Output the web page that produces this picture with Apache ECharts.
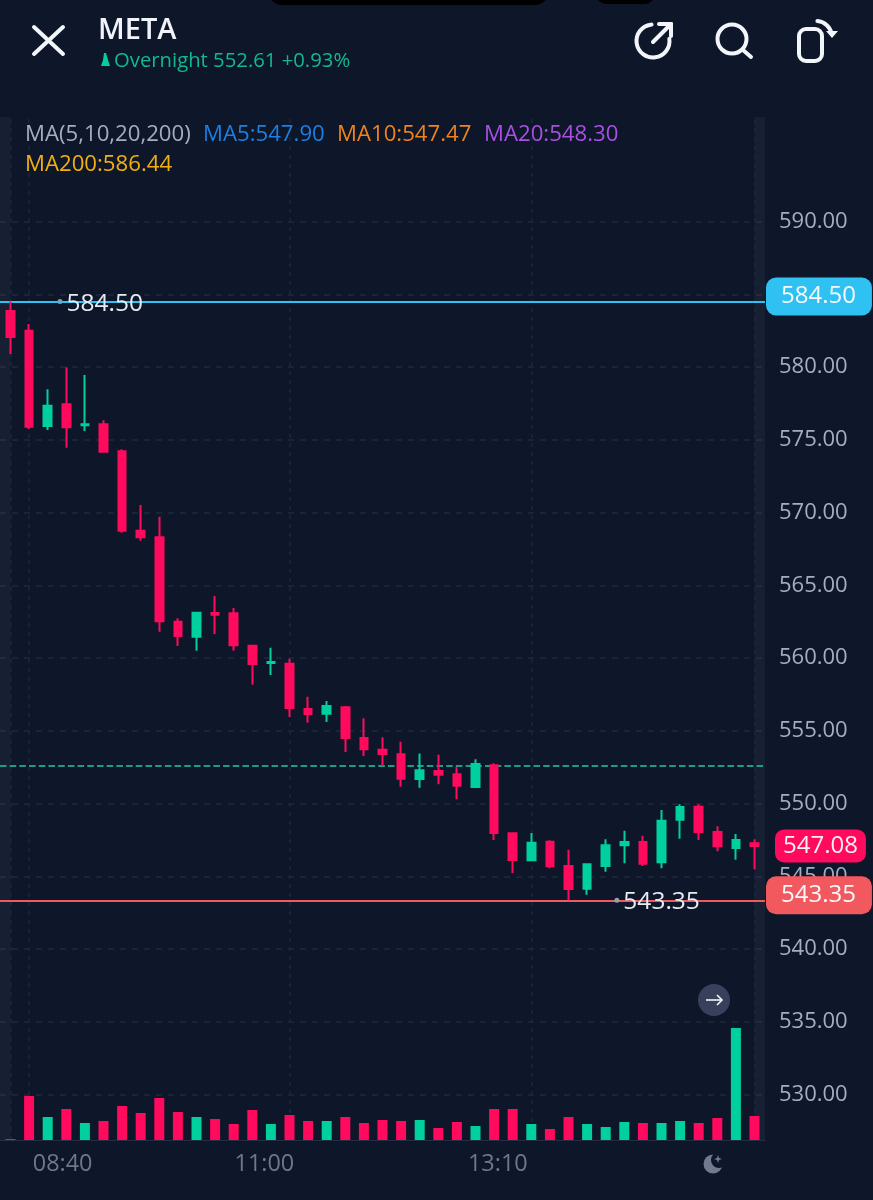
<!DOCTYPE html>
<html><head><meta charset="utf-8">
<style>html,body{margin:0;padding:0;background:#0e162a}#c{width:873px;height:1200px}</style>
<script src="https://cdn.jsdelivr.net/npm/echarts@6/dist/echarts.min.js"></script>
</head><body><div id="c"></div>
<script>
const opens  = [583.85,582.49,575.95,577.44,575.99,576.06,574.21,568.75,568.30,562.49,561.46,563.09,563.07,560.85,559.66,559.61,556.49,556.17,556.61,554.50,553.70,553.38,551.68,552.23,552.01,551.13,552.63,547.95,546.10,547.37,545.70,544.14,545.70,547.13,547.35,545.96,548.89,549.78,548.04,546.94,547.26];
const closes = [582.06,575.90,577.34,575.86,576.06,574.18,568.75,568.30,562.52,561.51,563.11,562.98,560.87,559.59,559.73,556.56,556.15,556.70,554.50,553.73,553.40,551.70,552.28,551.98,551.22,552.71,547.97,546.12,547.31,545.68,544.12,545.82,547.13,547.35,545.86,548.82,549.76,548.04,547.06,547.49,547.08];
const highs  = [584.50,582.96,578.47,579.98,579.45,576.34,574.34,570.52,569.71,562.73,563.14,564.26,563.44,560.85,560.71,559.95,557.34,557.04,556.70,555.86,554.55,554.25,553.44,553.35,552.53,553.04,552.76,547.97,547.97,547.47,546.82,545.82,547.54,548.13,547.79,549.55,549.95,549.95,548.43,547.90,547.54];
const lows   = [580.89,575.74,575.67,574.45,575.60,574.11,568.61,568.06,561.81,560.82,560.50,561.65,560.50,558.16,558.83,555.95,555.55,555.60,553.54,553.26,552.58,551.15,551.09,551.32,550.29,551.07,547.49,545.22,546.10,545.55,543.35,543.73,545.31,545.89,545.70,545.55,547.58,547.49,546.71,546.14,545.48];
const volumes = [1,44,23,31,17,19,34,27,42,28,23,21,16,30,16,25,19,19,23,17,20,19,20,12,18,14,31,31,16,11,23,16,13,18,17,17,19,17,22,112,24];
const timeTicks = [2.8,13.65,26.2];
const timeLabels = ['08:40','11:00','13:10'];
const verticalGrid = [0,1,15,28,40];
const dayHigh = 584.50, dayLow = 543.35, overnightPrice = 552.61, lastPrice = 547.08;
const maLine1 = [['MA(5,10,20,200)',25,'#a6adbf'],['MA5:547.90',203,'#1c7fe2'],['MA10:547.47',337,'#ef831c'],['MA20:548.30',484,'#a94fe3']];
const maLine2 = [['MA200:586.44',25,'#f2b00f']];

const BG='#0e162a', UP='#00d09e', DOWN='#ff0a5c', FONT='"Open Sans"';
const xMin=-10.5/18.6, xMax=(765-10.5)/18.6;
const up=i=>closes[i]>=opens[i];
const f2=v=>v.toFixed(2);
const candles=opens.map((o,i)=>[i,o,closes[i],lows[i],highs[i]]);
const vols=volumes.map((v,i)=>({value:[i,v],itemStyle:{color:up(i)?UP:DOWN}}));

function tagLine(price,color,dash){
  return {yAxis:price,lineStyle:{color:color,width:2,type:dash?[6.5,3.2]:'solid'},
    label:dash?{show:false}:{show:true,position:'end',distance:1,offset:[0,-5],formatter:f2(price),
      backgroundColor:color,color:'#f6f9fc',fontFamily:FONT,fontSize:24,
      padding:[10,16,2,15],lineHeight:26,borderRadius:10}};
}
function inlinePoint(x,price,dot){
  return {coord:[x,price],value:price,itemStyle:{color:dot},
    label:{show:true,position:'right',distance:4,offset:[0,2],formatter:f2(price),color:'#e6eaf1',fontFamily:FONT,fontSize:24.5}};
}
const txt=(t,x,y,fill,size,weight)=>({type:'text',x:x,y:y,z:20,style:{text:t,fill:fill,font:(weight||400)+' '+size+'px '+FONT,textVerticalAlign:'middle'}});
const stroke={stroke:'#f2f5fa',lineWidth:4,lineCap:'round',lineJoin:'round',fill:null};
const ln=(x1,y1,x2,y2,s)=>({type:'line',z:20,shape:{x1,y1,x2,y2},style:s||stroke});
const rad=d=>d*Math.PI/180;

const graphics=[
  {type:'rect',z:20,shape:{x:269,y:-20,width:279,height:25,r:14},style:{fill:'#000'}},
  {type:'rect',z:20,shape:{x:595,y:-20,width:61,height:24,r:14},style:{fill:'#000'}},
  ln(34,27,63,54),ln(63,27,34,54),
  txt('META',98,31,'#f0f3f9',29,600),
  {type:'polygon',z:20,shape:{points:[[104,53],[106,53],[108,60],[110,66],[101,66],[103,60]]},style:{fill:UP}},
  txt('Overnight 552.61 +0.93%',114,61,'#10b98f',20.3),
  {type:'arc',z:20,shape:{cx:653,cy:41,r:16.5,startAngle:rad(-8),endAngle:rad(-95),clockwise:true},style:stroke},
  ln(653,42,671,24),ln(659,24,671,24),ln(671,24,671,36),
  {type:'circle',z:20,shape:{cx:732,cy:39,r:14.5},style:stroke},
  ln(743,50,751,57),
  {type:'rect',z:20,shape:{x:799,y:29,width:23,height:32,r:7},style:stroke},
  {type:'arc',z:20,shape:{cx:816,cy:37,r:16,startAngle:rad(-85),endAngle:rad(-10),clockwise:true},style:stroke},
  {type:'polygon',z:20,shape:{points:[[826,31],[838,31],[832,38]]},style:{fill:'#f2f5fa'}},
  ...maLine1.map(m=>txt(m[0],m[1],135,m[2],22.2)),
  ...maLine2.map(m=>txt(m[0],m[1],165,m[2],22.2)),
  {type:'circle',z:20,shape:{cx:714,cy:1000,r:16},style:{fill:'#37415b'}},
  ln(706,1000,722,1000,{stroke:'#f2f5fa',lineWidth:1.6}),
  {type:'polyline',z:20,shape:{points:[[717,995],[722,1000],[717,1005]]},style:{stroke:'#f2f5fa',lineWidth:1.6,fill:null}},
  {type:'circle',z:20,shape:{cx:713,cy:1164,r:9.5},style:{fill:'#737a90'}},
  {type:'circle',z:21,shape:{cx:719,cy:1160,r:8},style:{fill:BG}},
  {type:'polygon',z:22,shape:{points:[[718,1155],[719,1158],[722,1159],[719,1160],[718,1163],[717,1160],[714,1159],[717,1158]]},style:{fill:'#737a90'}}
];

const chart=echarts.init(document.getElementById('c'),null,{width:873,height:1200,renderer:'canvas'});
chart.setOption({
  animation:false,backgroundColor:BG,
  textStyle:{fontFamily:FONT},
  graphic:{elements:graphics},
  grid:[
    {left:0,width:765,top:148.75,height:1018.5},
    {left:0,width:765,top:117,height:1023}
  ],
  xAxis:[
    {gridIndex:0,type:'value',min:xMin,max:xMax,show:false,splitLine:{show:false}},
    {gridIndex:1,type:'value',min:xMin,max:xMax,splitLine:{show:false},axisTick:{show:false},
      axisLine:{show:true,onZero:false,lineStyle:{color:'#252d44',width:1}},
      axisLabel:{customValues:timeTicks,margin:13,color:'#70778b',fontSize:23.4,fontFamily:FONT,
        formatter:v=>timeLabels[timeTicks.indexOf(v)]||''}}
  ],
  yAxis:[
    {gridIndex:0,type:'value',position:'right',min:525,max:595,interval:5,
      axisLine:{show:false},axisTick:{show:false},
      axisLabel:{show:true,showMinLabel:false,showMaxLabel:false,margin:14,color:'#a6adbf',fontSize:22,fontFamily:FONT,formatter:v=>v.toFixed(2)},
      splitLine:{show:true,showMinLine:false,showMaxLine:false,lineStyle:{color:'#20283d',width:1.5,type:[6,6]}}},
    {gridIndex:1,type:'value',min:0,max:1023,show:false,splitLine:{show:false}}
  ],
  series:[
    {type:'line',xAxisIndex:1,yAxisIndex:1,data:[],z:1,silent:true,
      markArea:{z:1,silent:true,itemStyle:{color:'rgba(255,255,255,0.04)'},
        data:[[{xAxis:xMin},{xAxis:0}],[{xAxis:40},{xAxis:xMax}]]},
      markLine:{z:1,silent:true,symbol:'none',label:{show:false},animation:false,
        lineStyle:{color:'#1d263c',width:1.5,type:[4,5]},
        data:verticalGrid.map(v=>({xAxis:v}))}},
    {type:'bar',xAxisIndex:1,yAxisIndex:1,barWidth:10,data:vols,z:3,silent:true},
    {type:'candlestick',xAxisIndex:0,yAxisIndex:0,barWidth:8,z:4,silent:true,
      encode:{x:0,y:[1,2,3,4]},data:candles,
      itemStyle:{color:UP,color0:DOWN,borderColor:UP,borderColor0:DOWN,borderWidth:2},
      markLine:{z:3,silent:true,symbol:'none',animation:false,
        data:[tagLine(dayHigh,'#2fc1f2',false),tagLine(dayLow,'#f2595f',false),tagLine(overnightPrice,'#1f9c88',true)]},
      markPoint:{silent:true,symbol:'circle',symbolSize:5,animation:false,
        data:[inlinePoint(2.66,dayHigh,'#6ea6c4'),inlinePoint(32.6,dayLow,'#9b9ea6'),
          {coord:[xMax,lastPrice],symbolSize:0,value:lastPrice,
            label:{show:true,position:'right',distance:10,formatter:f2(lastPrice),backgroundColor:DOWN,color:'#f9eef3',
              fontFamily:FONT,fontSize:24,padding:[4,8,0,8],lineHeight:29,borderRadius:9}}]}}
  ]
});
</script></body></html>
